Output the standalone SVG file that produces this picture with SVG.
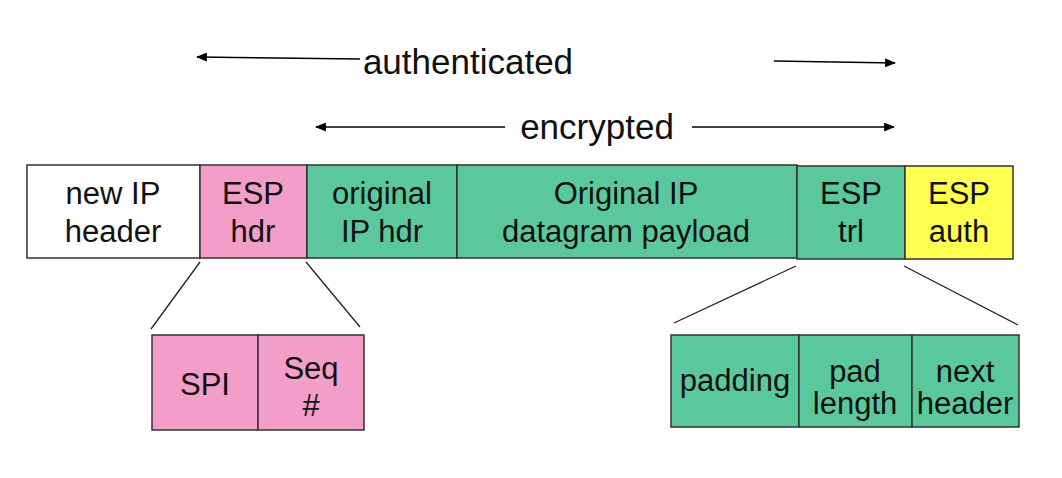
<svg xmlns="http://www.w3.org/2000/svg" width="1062" height="478" viewBox="0 0 1062 478">
<defs>
<marker id="ah" viewBox="0 0 12 10" refX="11" refY="5" markerWidth="12" markerHeight="9" markerUnits="userSpaceOnUse" orient="auto">
<path d="M0,0 L12,5 L0,10 z" fill="#000"/>
</marker>
<style>
.box{stroke:#333;stroke-width:1.5}
.w{fill:#fff}.p{fill:#f29ec8}.g{fill:#5ac89c}.y{fill:#ffff50}
text{font-family:"Liberation Sans",Arial,sans-serif;fill:#111;text-anchor:middle}
.t{font-size:31px}
.big{font-size:35px}
.ln{stroke:#222;stroke-width:1.3;fill:none}
.ar{stroke:#000;stroke-width:1.6;fill:none;marker-end:url(#ah)}
</style>
</defs>
<g id="connectors">
<line class="ar" x1="360" y1="59" x2="197" y2="57"/>
<line class="ar" x1="774" y1="61" x2="895" y2="63"/>
<line class="ar" x1="505" y1="127" x2="316" y2="127"/>
<line class="ar" x1="692" y1="127" x2="894" y2="127"/>
<line class="ln" x1="200" y1="262" x2="151" y2="329"/>
<line class="ln" x1="306" y1="262" x2="360" y2="327"/>
<line class="ln" x1="796" y1="266" x2="674" y2="323"/>
<line class="ln" x1="904" y1="266" x2="1018" y2="325"/>
</g>
<g id="labels">
<text class="big" x="468" y="74">authenticated</text>
<text class="big" x="597" y="139">encrypted</text>
</g>
<g id="new-ip-header"><rect class="box w" x="27" y="165" width="173" height="93"/><text class="t" x="113" y="204">new IP</text><text class="t" x="113" y="242">header</text></g>
<g id="esp-hdr"><rect class="box p" x="200" y="165" width="107" height="93"/><text class="t" x="253" y="204">ESP</text><text class="t" x="253" y="242">hdr</text></g>
<g id="original-ip-hdr"><rect class="box g" x="307" y="165" width="150" height="93"/><text class="t" x="382" y="204">original</text><text class="t" x="382" y="242">IP hdr</text></g>
<g id="payload"><rect class="box g" x="457" y="165" width="340" height="93"/><text class="t" x="626" y="204">Original IP</text><text class="t" x="626" y="242">datagram payload</text></g>
<g id="esp-trl"><rect class="box g" x="797" y="166" width="108" height="93"/><text class="t" x="851" y="204">ESP</text><text class="t" x="851" y="242">trl</text></g>
<g id="esp-auth"><rect class="box y" x="905" y="166" width="108" height="93"/><text class="t" x="959" y="204">ESP</text><text class="t" x="959" y="242">auth</text></g>
<g id="spi"><rect class="box p" x="152" y="335" width="106" height="95"/><text class="t" x="205" y="395">SPI</text></g>
<g id="seq"><rect class="box p" x="258" y="335" width="106" height="95"/><text class="t" x="311" y="379">Seq</text><text class="t" x="311" y="416">#</text></g>
<g id="padding"><rect class="box g" x="671" y="335" width="128" height="92"/><text class="t" x="735" y="391">padding</text></g>
<g id="pad-length"><rect class="box g" x="799" y="335" width="113" height="92"/><text class="t" x="855" y="382">pad</text><text class="t" x="855" y="414">length</text></g>
<g id="next-header"><rect class="box g" x="912" y="335" width="107" height="92"/><text class="t" x="965" y="382">next</text><text class="t" x="965" y="414">header</text></g>
</svg>
